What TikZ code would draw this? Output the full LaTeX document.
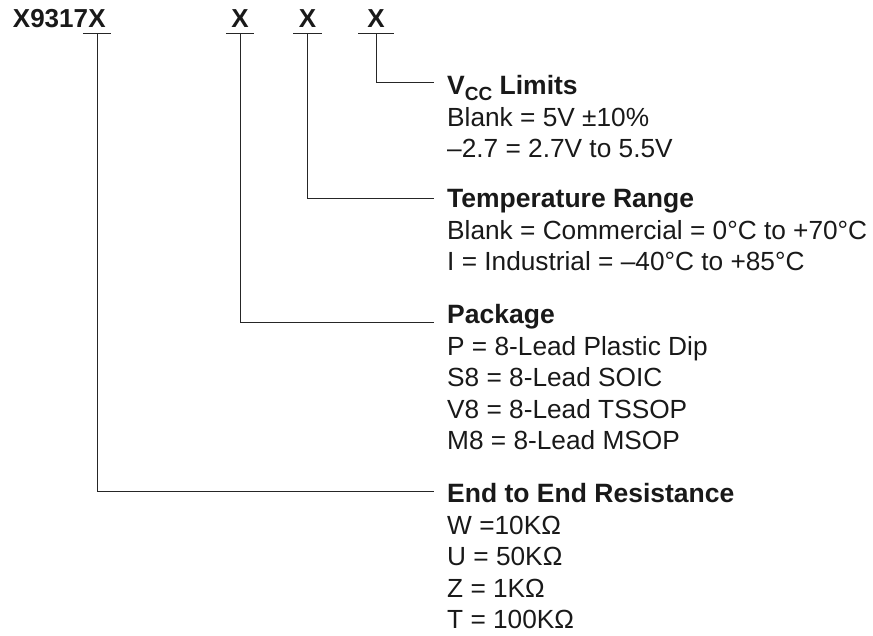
\documentclass[tikz,border=0pt]{standalone}
\usepackage{fontspec}
\setmainfont{Liberation Sans}
\usetikzlibrary{positioning}
\begin{document}
\begin{tikzpicture}
  [x=1pt,y=1pt,
   every node/.style={inner sep=0pt,text=black!90},
   slot/.style={font=\bfseries\fontsize{26}{30}\selectfont,minimum width=28pt,
                text height=19pt,text depth=5.7pt,anchor=base},
   head/.style={font=\bfseries\fontsize{26.5}{30}\selectfont,inner xsep=13pt,
                text height=18pt,text depth=6pt,anchor=base west},
   item/.style={font=\fontsize{26.25}{30}\selectfont,inner xsep=13pt,anchor=base west},
   lead/.style={draw=black!85,line width=1pt}]

  \useasboundingbox (0,0) rectangle (873,636);

  % part number and option slots
  \node[slot] (x1) at (97,608.7) {X};
  \node[anchor=base east,font=\bfseries\fontsize{26}{30}\selectfont] (part) at (x1.text) {X9317};
  \node[slot] (x2) at (240,608.7) {X};
  \node[slot] (x3) at (307.5,608.7) {X};
  \node[slot,minimum width=35pt] (x4) at (376,608.7) {X};

  \foreach \s in {x1,x2,x3,x4}
    \draw[lead] (\s.south west) -- (\s.south east);

  % option headings
  \node[head] (vcc) at (434,541) {V\raisebox{-5.5pt}{\fontsize{19}{19}\selectfont CC} Limits};
  \node[head] (temp) at (434,428) {Temperature Range};
  \node[head] (pkg) at (434,312) {Package};
  \node[head] (endr) at (434,133) {End to End Resistance};

  % option values
  \foreach \t [count=\i] in {Blank = 5V ±10\%, –2.7 = 2.7V to 5.5V}
    \node[item] (vcc\i) at ([yshift={-31.5pt*\i}]vcc.base west) {\t};
  \foreach \t [count=\i] in {Blank = Commercial = 0°C to +70°C, I = Industrial = –40°C to +85°C}
    \node[item] (temp\i) at ([yshift={-31.5pt*\i}]temp.base west) {\t};
  \foreach \t [count=\i] in {P = 8-Lead Plastic Dip, S8 = 8-Lead SOIC, V8 = 8-Lead TSSOP, M8 = 8-Lead MSOP}
    \node[item] (pkg\i) at ([yshift={-31.5pt*\i}]pkg.base west) {\t};
  \foreach \t [count=\i] in {W =10KΩ, U = 50KΩ, Z = 1KΩ, T = 100KΩ}
    \node[item] (endr\i) at ([yshift={-31.5pt*\i}]endr.base west) {\t};

  % leads
  \draw[lead] (x4.south) |- ([yshift=6pt]vcc.west);
  \draw[lead] (x3.south) |- ([yshift=3pt]temp.west);
  \draw[lead] (x2.south) |- ([yshift=-5pt]pkg.west);
  \draw[lead] (x1.south) |- ([yshift=5pt]endr.west);
\end{tikzpicture}
\end{document}
